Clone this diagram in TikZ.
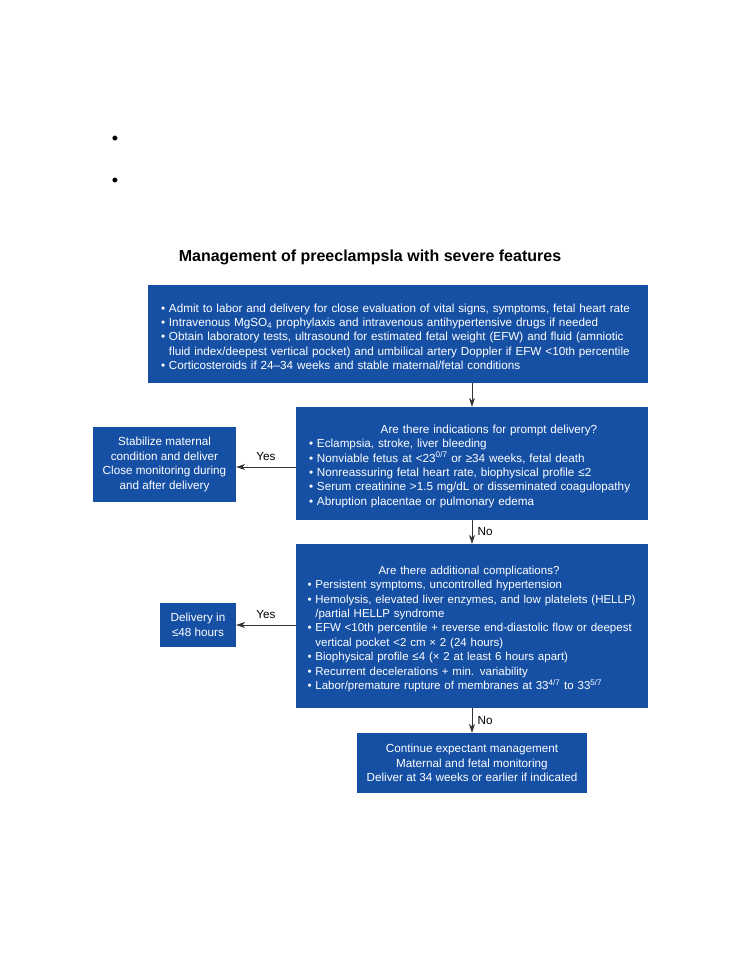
\documentclass[tikz,border=0pt]{standalone}
\usepackage{fontspec}
\setmainfont{Liberation Sans}
\usetikzlibrary{arrows.meta}
\definecolor{flowblue}{RGB}{22,80,165}
\newcommand{\boxhead}[2][0pt]{\makebox[\linewidth]{\hspace{#1}#2}\\}
\newcommand{\hang}{\hphantom{\textbullet\ }}

\begin{document}
\begin{tikzpicture}[x=1pt,y=-1pt,
	bluebox/.style={fill=flowblue,text=white,inner sep=0pt,font=\fontsize{11.7}{14.4}\selectfont},
	listbox/.style={bluebox,align=left,execute at begin node=\rule{0pt}{14pt}},
	flowarrow/.style={draw=black!80,line width=0.7pt,-{Stealth[length=9pt,width=6pt]}},
	answer/.style={font=\fontsize{11.7}{14}\selectfont}]
				\useasboundingbox (0,0) rectangle (741,960);
				
				\node (dotA) at (115,140) {\fontsize{18}{18}\selectfont\textbullet};
				\node (dotB) at (115,182) {\fontsize{18}{18}\selectfont\textbullet};
				
				\node[font=\fontsize{16}{18}\selectfont\bfseries] (title) at (370,257) {Management of preeclampsla with severe features};
				
				\node[listbox,minimum width=500pt,minimum height=98pt,text width=474pt] (admit) at (398,334) {%
					\textbullet\ Admit to labor and delivery for close evaluation of vital signs, symptoms, fetal heart rate\\
					\textbullet\ Intravenous MgSO\textsubscript{4} prophylaxis and intravenous antihypertensive drugs if needed\\
					\textbullet\ Obtain laboratory tests, ultrasound for estimated fetal weight (EFW) and fluid (amniotic\\
					\hang fluid index/deepest vertical pocket) and umbilical artery Doppler if EFW <10th percentile\\
					\textbullet\ Corticosteroids if 24–34 weeks and stable maternal/fetal conditions};
				
				\node[listbox,minimum width=352pt,minimum height=113pt,text width=326pt] (prompt) at (472,463.5) {%
					\boxhead[34pt]{Are there indications for prompt delivery?}
					\textbullet\ Eclampsia, stroke, liver bleeding\\
					\textbullet\ Nonviable fetus at <23\textsuperscript{0/7} or ≥34 weeks, fetal death\\
					\textbullet\ Nonreassuring fetal heart rate, biophysical profile ≤2\\
					\textbullet\ Serum creatinine >1.5 mg/dL or disseminated coagulopathy\\
					\textbullet\ Abruption placentae or pulmonary edema};
				
				\node[bluebox,minimum width=143pt,minimum height=75pt,align=center] (stab) at (164.5,464.5) {%
					Stabilize maternal\\condition and deliver\\Close monitoring during\\and after delivery};
				
				\node[listbox,font=\fontsize{11.5}{14.4}\selectfont,minimum width=352pt,minimum height=164pt,text width=329pt] (compl) at (472,626) {%
					\boxhead[-6pt]{Are there additional complications?}
					\textbullet\ Persistent symptoms, uncontrolled hypertension\\
					\textbullet\ Hemolysis, elevated liver enzymes, and low platelets (HELLP)\\
					\hang /partial HELLP syndrome\\
					\textbullet\ EFW <10th percentile + reverse end-diastolic flow or deepest\\
					\hang vertical pocket <2 cm × 2 (24 hours)\\
					\textbullet\ Biophysical profile ≤4 (× 2 at least 6 hours apart)\\
					\textbullet\ Recurrent decelerations + min. variability\\
					\textbullet\ Labor/premature rupture of membranes at 33\textsuperscript{4/7} to 33\textsuperscript{5/7}};
				
				\node[bluebox,minimum width=76pt,minimum height=44pt,align=center] (deliver) at (198,625) {%
					Delivery in\\≤48 hours};
				
				\node[bluebox,minimum width=230pt,minimum height=60pt,align=center] (expect) at (472,763) {%
					Continue expectant management\\Maternal and fetal monitoring\\Deliver at 34 weeks or earlier if indicated};
				
				\draw[flowarrow] (prompt.north |- admit.south) -- (prompt.north);
				\draw[flowarrow] (prompt.west |- 0,467) -- (stab.east |- 0,467) node[answer,midway,above=3pt] {Yes};
				\draw[flowarrow] (prompt.south) -- (compl.north) node[answer,midway,right=2pt] {No};
				\draw[flowarrow] (compl.west |- deliver) -- (deliver.east) node[answer,midway,above=3pt] {Yes};
				\draw[flowarrow] (compl.south) -- (expect.north) node[answer,midway,right=2pt] {No};
			\end{tikzpicture}
\end{document}
